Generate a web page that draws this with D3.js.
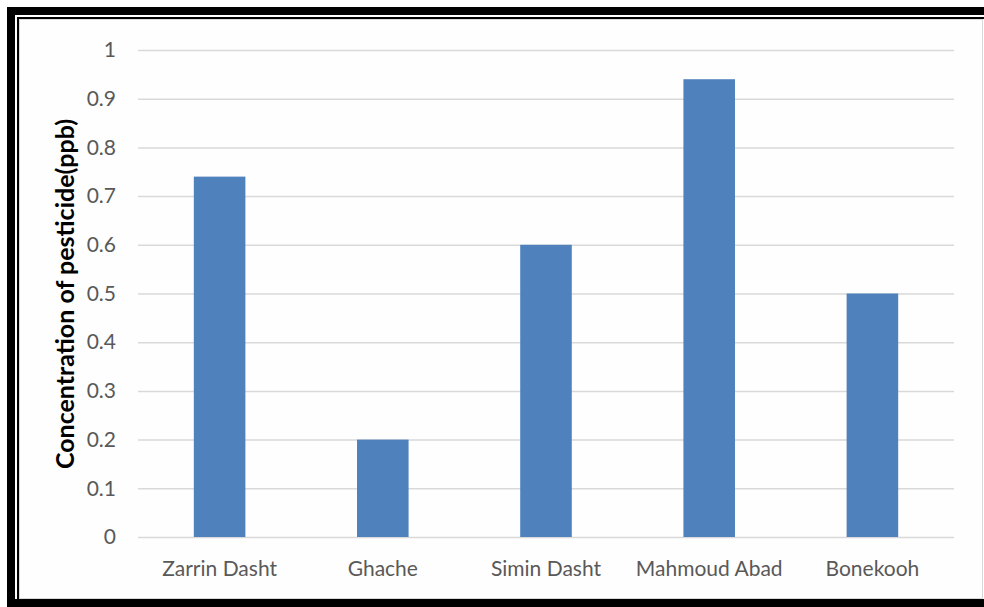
<!DOCTYPE html>
<html>
<head>
<meta charset="utf-8">
<script src="https://cdn.jsdelivr.net/npm/d3@7"></script>
<style>
  html, body { margin: 0; padding: 0; background: #ffffff; }
  svg { display: block; }
</style>
</head>
<body>
<script>
// Pesticide concentration by sampling site
const categories = ["Zarrin Dasht", "Ghache", "Simin Dasht", "Mahmoud Abad", "Bonekooh"];
const concentration = [0.74, 0.2, 0.6, 0.94, 0.5];
const yTicks = [0, 0.1, 0.2, 0.3, 0.4, 0.5, 0.6, 0.7, 0.8, 0.9, 1];
const yTitle = "Concentration of pesticide(ppb)";

const W = 984, H = 607;
const FONT = "Lato, 'Open Sans', 'Noto Sans', sans-serif";
const svg = d3.select("body").append("svg").attr("width", W).attr("height", H);

// Framed border: thick outer band, thin inner line, light grey chart edge
svg.append("rect").attr("x", 11).attr("y", 11).attr("width", W).attr("height", 592)
  .attr("fill", "none").attr("stroke", "#000").attr("stroke-width", 8);
svg.append("rect").attr("x", 18).attr("y", 18).attr("width", W).attr("height", 583)
  .attr("fill", "none").attr("stroke", "#000").attr("stroke-width", 2);
svg.append("rect").attr("x", 19.5).attr("y", 19.5).attr("width", 963).attr("height", 579)
  .attr("fill", "#fefefe").attr("stroke", "#d9d9d9").attr("stroke-width", 1);

const x = d3.scaleBand().domain(categories).range([138, 954]).padding(0);
const y = d3.scaleLinear().domain([0, 1]).range([537, 50]);

// Horizontal gridlines with value labels
const yAxis = d3.axisLeft(y).tickValues(yTicks).tickSize(-(954 - 138)).tickPadding(22)
  .tickFormat(d => d === 0 ? "0" : d3.format("")(+d.toFixed(1)));
const gy = svg.append("g").attr("transform", "translate(138,0)").call(yAxis);
gy.select(".domain").remove();
gy.selectAll(".tick line").attr("stroke", "#d9d9d9").attr("stroke-width", 1.5);
gy.selectAll(".tick text").attr("fill", "#595959")
  .style("font-family", FONT).style("font-size", "21px");

// Bars
const barW = x.bandwidth() * 0.316;
svg.append("g").selectAll("rect").data(categories).join("rect")
  .attr("x", (d) => x(d) + (x.bandwidth() - barW) / 2)
  .attr("y", (d, i) => y(concentration[i]))
  .attr("width", barW)
  .attr("height", (d, i) => y(0) - y(concentration[i]))
  .attr("fill", "#4f81bd");

// Category labels
const xAxis = d3.axisBottom(x).tickSize(0).tickPadding(24);
const gx = svg.append("g").attr("transform", "translate(0,537)").call(xAxis);
gx.select(".domain").remove();
gx.selectAll(".tick text").attr("fill", "#595959")
  .style("font-family", FONT).style("font-size", "21px");

// Axis title
svg.append("text")
  .attr("transform", "translate(74,294) rotate(-90)")
  .attr("text-anchor", "middle")
  .attr("fill", "#000")
  .style("font-family", FONT)
  .style("font-size", "25px").style("font-weight", "bold")
  .text(yTitle);
</script>
</body>
</html>
